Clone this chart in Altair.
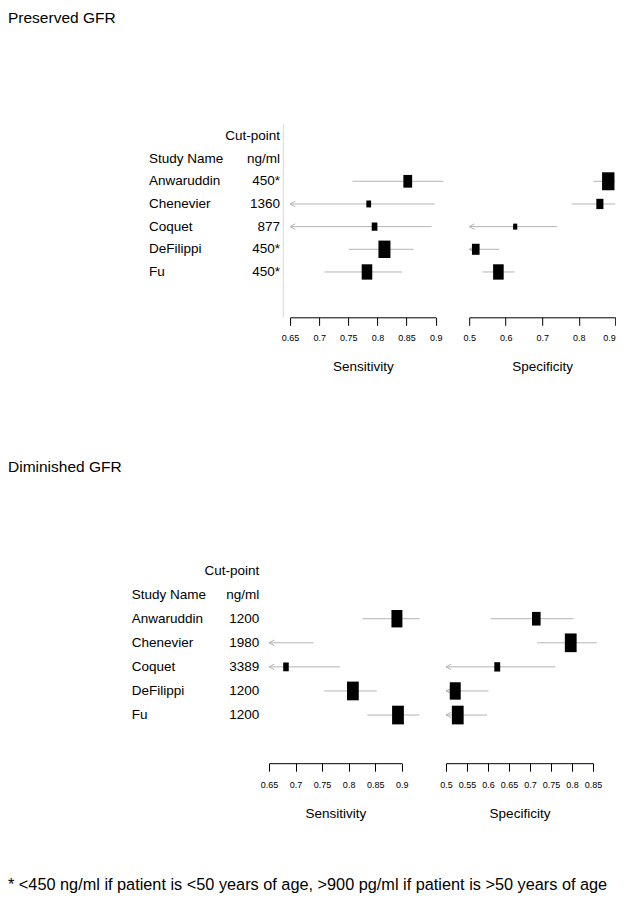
import altair as alt
import pandas as pd

FONT = "Liberation Sans, Arial, sans-serif"
GRAY = "#b4b4b4"
LIGHT = "#dedede"

# ---------------- data ----------------
studies = ["Anwaruddin", "Chenevier", "Coquet", "DeFilippi", "Fu"]
name_header = ["Study Name"]
cut_header = ["Cut-point", "ng/ml"]
cut_top = ["450*", "1360", "877", "450*", "450*"]
cut_bot = ["1200", "1980", "3389", "1200", "1200"]

# Preserved GFR
sens_top_est = [0.852, 0.785, 0.795, 0.812, 0.782]
sens_top_lo = [0.757, 0.63, 0.63, 0.751, 0.709]
sens_top_hi = [0.913, 0.898, 0.893, 0.862, 0.842]
sens_top_w = [0.68, 0.37, 0.44, 0.93, 0.82]

spec_top_est = [0.881, 0.858, 0.626, 0.518, 0.580]
spec_top_lo = [0.840, 0.781, 0.46, 0.47, 0.536]
spec_top_hi = [0.90, 0.90, 0.741, 0.582, 0.624]
spec_top_w = [0.96, 0.55, 0.32, 0.59, 0.82]

# Diminished GFR
sens_bot_est = [0.891, 0.63, 0.682, 0.808, 0.893]
sens_bot_lo = [0.826, 0.55, 0.62, 0.754, 0.835]
sens_bot_hi = [0.934, 0.734, 0.784, 0.853, 0.933]
sens_bot_w = [0.93, 0.70, 0.47, 1.00, 1.00]

spec_bot_est = [0.715, 0.797, 0.622, 0.522, 0.528]
spec_bot_lo = [0.606, 0.717, 0.46, 0.47, 0.47]
spec_bot_hi = [0.804, 0.859, 0.760, 0.601, 0.598]
spec_bot_w = [0.73, 1.00, 0.50, 0.93, 1.00]

sens_ticks = [0.65, 0.7, 0.75, 0.8, 0.85, 0.9]
spec_top_ticks = [0.5, 0.6, 0.7, 0.8, 0.9]
spec_bot_ticks = [0.5, 0.55, 0.6, 0.65, 0.7, 0.75, 0.8, 0.85]
ref_line_top = [0.6385]
ref_line_rows = [-1.5, 7.0]

footnote = "* <450 ng/ml if patient is <50 years of age, >900 pg/ml if patient is >50 years of age"

CHEVRON = "M1.9,-1L0,0L1.9,1"


def box_path(a):
    return f"M-{a},-1H{a}V1H-{a}Z"


def panel(est, lo, hi, w, ticks, title, width, height, ydom, aspect, title_y, label_pad,
          ref=None, flush_last=False):
    xmin, xmax = ticks[0], ticks[-1]
    df = pd.DataFrame({"study": studies, "row": list(range(1, len(studies) + 1)),
                       "est": est, "lo": lo, "hi": hi, "w": w})
    base = alt.Chart(df).transform_calculate(lo_c=f"max(datum.lo, {xmin})")
    xscale = alt.Scale(domain=[xmin, xmax], nice=False, zero=False)
    yscale = alt.Scale(domain=ydom, reverse=True, nice=False, zero=False)
    extra = {}
    if flush_last:
        extra["labelAlign"] = alt.condition(f"datum.value >= {xmax}", alt.value("right"),
                                            alt.value("center"))
    axis = alt.Axis(values=ticks, title=title, labelExpr="datum.value + ''",
                    grid=False, domainColor="black", domainWidth=1, tickColor="black",
                    tickSize=8, tickWidth=1, labelFont=FONT, labelFontSize=9,
                    labelColor="black", labelPadding=label_pad, labelBaseline="alphabetic",
                    labelFlush=False, labelOverlap=False,
                    titleFont=FONT, titleFontSize=13.5, titleFontWeight="normal",
                    titleColor="black", titleBaseline="alphabetic", titleY=title_y, **extra)
    y = alt.Y("row:Q", scale=yscale, axis=None)
    layers = []
    if ref is not None:
        rdf = pd.DataFrame({"ref": ref, "r0": [ref_line_rows[0]], "r1": [ref_line_rows[1]]})
        layers.append(alt.Chart(rdf).mark_rule(color=LIGHT, strokeWidth=1.2).encode(
            x=alt.X("ref:Q", scale=xscale, axis=axis),
            y=alt.Y("r0:Q", scale=yscale, axis=None), y2="r1:Q"))
    ci = base.mark_rule(color=GRAY, strokeWidth=1).encode(
        x=alt.X("lo_c:Q", scale=xscale, axis=axis), x2="hi:Q", y=y)
    arrows = base.transform_filter(f"datum.lo < {xmin}").mark_point(
        shape=CHEVRON, filled=False, stroke=GRAY, size=31, strokeWidth=1, opacity=1).encode(
        x=alt.X("lo_c:Q", scale=xscale, axis=axis), y=y)
    boxes = base.transform_filter(f"datum.est >= {xmin}").mark_point(
        shape=box_path(aspect), filled=True, color="black", opacity=1, strokeWidth=0).encode(
        x=alt.X("est:Q", scale=xscale, axis=axis), y=y,
        size=alt.Size("w:Q", scale=alt.Scale(type="pow", exponent=2, domain=[0, 1], range=[0, 350]),
                      legend=None))
    layers += [ci, arrows, boxes]
    return alt.layer(*layers).properties(width=width, height=height)


def label_panel(cuts, width, height, ydom, name_x, cut_x, section_title, title_y=0,
                note=None, note_y=0):
    yscale = alt.Scale(domain=ydom, reverse=True, nice=False, zero=False)
    ntext = name_header + studies
    ctext = cut_header + cuts
    ndf = pd.DataFrame({"text": ntext, "row": list(range(1 - len(name_header), len(studies) + 1))})
    cdf = pd.DataFrame({"text": ctext, "row": list(range(1 - len(cut_header), len(studies) + 1))})
    names = alt.Chart(ndf).mark_text(align="left", baseline="middle", font=FONT,
                                     fontSize=13.5, color="black").encode(
        x=alt.value(name_x), y=alt.Y("row:Q", scale=yscale, axis=None), text="text:N")
    cutc = alt.Chart(cdf).mark_text(align="right", baseline="middle", font=FONT,
                                    fontSize=13.5, color="black").encode(
        x=alt.value(cut_x), y=alt.Y("row:Q", scale=yscale, axis=None), text="text:N")
    tdf = pd.DataFrame({"t": [section_title]})
    ttl = alt.Chart(tdf).mark_text(align="left", baseline="top", font=FONT, fontSize=15.5,
                                   color="black").encode(
        x=alt.value(0), y=alt.value(title_y), text="t:N")
    layers = [names, cutc, ttl]
    if note is not None:
        fdf = pd.DataFrame({"t": [note]})
        layers.append(alt.Chart(fdf).mark_text(align="left", baseline="middle", font=FONT,
                                               fontSize=16.3, color="black").encode(
            x=alt.value(0), y=alt.value(note_y), text="t:N"))
    return alt.layer(*layers).properties(width=width, height=height)


H1, YD1 = 309.3, [-6.644, 7.0]
H2, YD2 = 303.6, [-5.608, 7.0]

top = alt.hconcat(
    label_panel(cut_top, 248.9, H1, YD1, 141, 272, "Preserved GFR", title_y=2.5),
    panel(sens_top_est, sens_top_lo, sens_top_hi, sens_top_w, sens_ticks, "Sensitivity",
          145.6, H1, YD1, 0.69, 52.8, 15.2, ref=ref_line_top),
    panel(spec_top_est, spec_top_lo, spec_top_hi, spec_top_w, spec_top_ticks, "Specificity",
          146, H1, YD1, 0.69, 52.8, 15.2, flush_last=True),
    spacing=33.1, bounds="flush")

bot = alt.hconcat(
    label_panel(cut_bot, 217, H2, YD2, 123.7, 251.3, "Diminished GFR",
                note=footnote, note_y=425.5),
    panel(sens_bot_est, sens_bot_lo, sens_bot_hi, sens_bot_w, sens_ticks, "Sensitivity",
          132.7, H2, YD2, 0.63, 54.1, 16.2),
    panel(spec_bot_est, spec_bot_lo, spec_bot_hi, spec_bot_w, spec_bot_ticks, "Specificity",
          147, H2, YD2, 0.63, 54.1, 16.2),
    spacing=44, bounds="flush")

chart = alt.vconcat(top, bot, spacing=86.6).properties(padding=0).configure_view(stroke=None)

chart.save("out.html", embed_options={"renderer": "svg", "actions": False})
